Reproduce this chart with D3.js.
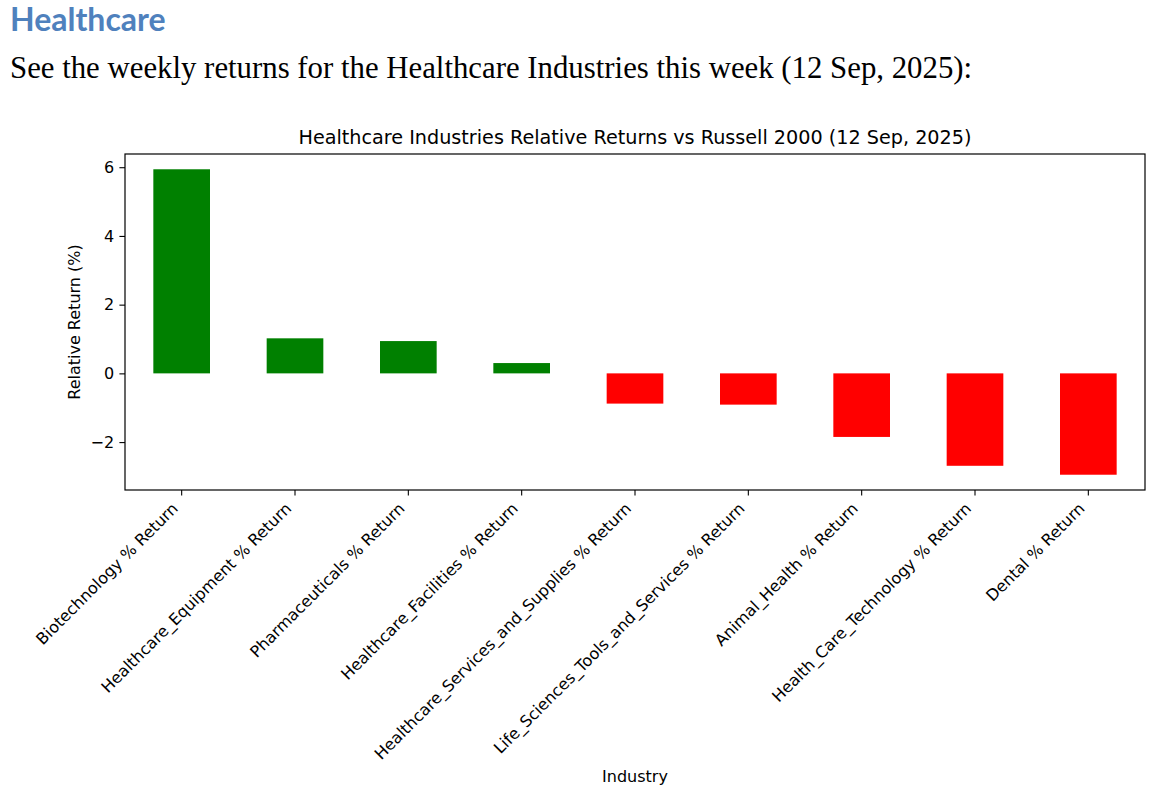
<!DOCTYPE html>
<html>
<head>
<meta charset="utf-8">
<script src="https://cdn.jsdelivr.net/npm/d3@7"></script>
<style>
  html, body { margin: 0; padding: 0; background: #fff; }
  svg { display: block; }
</style>
</head>
<body>
<svg id="chart" width="1160" height="792"></svg>
<script>
const categories = [
  "Biotechnology % Return",
  "Healthcare_Equipment % Return",
  "Pharmaceuticals % Return",
  "Healthcare_Facilities % Return",
  "Healthcare_Services_and_Supplies % Return",
  "Life_Sciences_Tools_and_Services % Return",
  "Animal_Health % Return",
  "Health_Care_Technology % Return",
  "Dental % Return"
];
const values = [5.94, 1.02, 0.94, 0.30, -0.88, -0.91, -1.85, -2.69, -2.95];
const yTicks = [-2, 0, 2, 4, 6];
const heading = "Healthcare";
const subtitle = "See the weekly returns for the Healthcare Industries this week (12 Sep, 2025):";
const chartTitle = "Healthcare Industries Relative Returns vs Russell 2000 (12 Sep, 2025)";
const xLabel = "Industry";
const yLabel = "Relative Return (%)";

const svg = d3.select("#chart");
const margin = {left: 125, right: 15, top: 154, bottom: 302};
const W = 1160, H = 792;
const pw = W - margin.left - margin.right;
const ph = H - margin.top - margin.bottom;

svg.append("text").attr("x", 10).attr("y", 31)
  .attr("font-family", "Lato, 'Open Sans', sans-serif").attr("font-weight", "bold")
  .attr("font-size", 32).attr("fill", "#4f81bd").text(heading);
svg.append("text").attr("x", 10).attr("y", 78)
  .attr("font-family", "'Liberation Serif', 'DejaVu Serif', serif")
  .attr("font-size", 30.8).attr("fill", "#000").text(subtitle);

const g = svg.append("g").attr("transform", `translate(${margin.left},${margin.top})`);

const x = d3.scaleBand().domain(categories).range([0, pw]).padding(0);
const ext = d3.extent(values);
const pad = (ext[1] - ext[0]) * 0.05;
const y = d3.scaleLinear().domain([ext[0] - pad, ext[1] + pad]).range([ph, 0]);

g.selectAll("rect.bar").data(values).join("rect")
  .attr("class", "bar")
  .attr("x", (d, i) => x(categories[i]) + x.bandwidth() * 0.25)
  .attr("width", x.bandwidth() * 0.5)
  .attr("y", d => y(Math.max(0, d)))
  .attr("height", d => Math.abs(y(d) - y(0)))
  .attr("fill", d => d >= 0 ? "#008000" : "#ff0000");

const font = "'DejaVu Sans', sans-serif";
const fs = 16;

// Y axis
const yAxis = g.append("g").call(d3.axisLeft(y).tickValues(yTicks).tickSize(5.6).tickPadding(5.2)
  .tickFormat(d => d < 0 ? "\u2212" + Math.abs(d) : d));
yAxis.select(".domain").remove();
yAxis.selectAll("text").attr("font-family", font).attr("font-size", fs).attr("fill", "#000");
yAxis.selectAll("line").attr("stroke", "#000").attr("stroke-width", 1.1);

// X axis
const xAxis = g.append("g").attr("transform", `translate(0,${ph})`)
  .call(d3.axisBottom(x).tickSize(5.6).tickSizeOuter(0).tickFormat(""));
xAxis.select(".domain").remove();
xAxis.selectAll("line").attr("stroke", "#000").attr("stroke-width", 1.1);
xAxis.selectAll("g.tick").append("text")
  .attr("font-family", font).attr("font-size", fs).attr("fill", "#000")
  .attr("text-anchor", "end")
  .attr("transform", "translate(-2.7,19.5) rotate(-45)")
  .text(d => d);

// frame
g.append("rect").attr("x", 0).attr("y", 0).attr("width", pw).attr("height", ph)
  .attr("fill", "none").attr("stroke", "#000").attr("stroke-width", 1.2);

// Title
g.append("text").attr("x", pw / 2).attr("y", -9.6)
  .attr("text-anchor", "middle").attr("font-family", font).attr("font-size", 19.2)
  .attr("fill", "#000").text(chartTitle);

// axis labels
svg.append("text").attr("x", margin.left + pw / 2).attr("y", 782)
  .attr("text-anchor", "middle").attr("font-family", font).attr("font-size", fs)
  .attr("fill", "#000").text(xLabel);
svg.append("text").attr("transform", `translate(80,${margin.top + ph / 2}) rotate(-90)`)
  .attr("text-anchor", "middle").attr("font-family", font).attr("font-size", fs)
  .attr("fill", "#000").text(yLabel);
</script>
</body>
</html>
